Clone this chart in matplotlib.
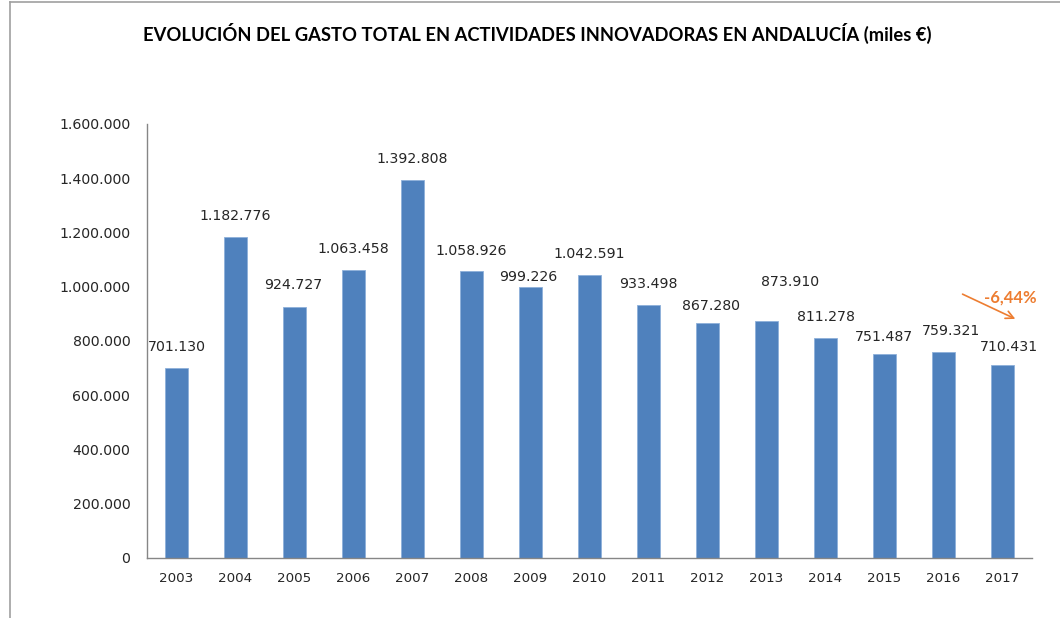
import matplotlib.pyplot as plt
from matplotlib.lines import Line2D
from matplotlib.ticker import FuncFormatter

# data
years = ["2003", "2004", "2005", "2006", "2007", "2008", "2009", "2010",
         "2011", "2012", "2013", "2014", "2015", "2016", "2017"]
gasto = [701130, 1182776, 924727, 1063458, 1392808, 1058926, 999226, 1042591,
         933498, 867280, 873910, 811278, 751487, 759321, 710431]
variacion = "-6,44%"

# label offsets (pixels) relative to bar top, as placed in the original
label_offsets = [(0, 21), (0, 21), (-1, 22), (0, 21), (0, 21), (0, 20), (-2, 10),
                 (0, 21), (0, 21), (3, 17), (24, 39), (0, 21), (-1, 17), (7, 21), (6, 18)]

plt.rcParams["font.family"] = ["DejaVu Sans"]
TITLE_FONT = ["Lato", "DejaVu Sans"]

BAR = "#4F81BD"
ORANGE = "#ED7D31"
TXT = "#262626"


def miles(v, pos=None):
    return f"{int(round(v)):,}".replace(",", ".")


fig = plt.figure(figsize=(10.6, 6.18), dpi=100)
ax = fig.add_axes([0.1387, 0.0971, 0.8349, 0.7023])

x = list(range(len(years)))
ax.bar(x, gasto, width=0.39, color=BAR, edgecolor="#8EB0DA", linewidth=0.6)

for xi, v, (dx, dy) in zip(x, gasto, label_offsets):
    ax.annotate(miles(v), (xi, v), xytext=(dx, dy), textcoords="offset pixels",
                ha="center", va="center", fontsize=10.2, color=TXT)

ax.set_xlim(-0.5, len(years) - 0.5)
ax.set_ylim(0, 1600000)
ax.set_yticks(range(0, 1600001, 200000))
ax.yaxis.set_major_formatter(FuncFormatter(miles))
ax.set_xticks(x)
ax.set_xticklabels(years)
ax.tick_params(axis="both", length=0, labelcolor=TXT)
ax.tick_params(axis="y", pad=12, labelsize=10.2)
ax.tick_params(axis="x", pad=10, labelsize=9.7)

for side in ["top", "right"]:
    ax.spines[side].set_visible(False)
for side in ["left", "bottom"]:
    ax.spines[side].set_color("#868686")
    ax.spines[side].set_linewidth(1.0)

# trend arrow for last year
ax.annotate("", xy=(14.26, 877000), xytext=(13.28, 977000),
            arrowprops=dict(arrowstyle="->", color=ORANGE, lw=1.2,
                            mutation_scale=14), annotation_clip=False)
ax.text(14.13, 962000, variacion, color=ORANGE, fontsize=12, family=TITLE_FONT,
        fontweight="bold", ha="center", va="center", clip_on=False)

fig.text(0.507, 1 - 33 / 618,
         "EVOLUCIÓN DEL GASTO TOTAL EN ACTIVIDADES INNOVADORAS EN ANDALUCÍA (miles €)",
         ha="center", va="center", fontsize=13.25, fontweight="bold",
         family=TITLE_FONT, color="#000000")

# outer frame (only top and left edges visible)
fig.add_artist(Line2D([10 / 1060, 1], [1 - 2 / 618, 1 - 2 / 618],
                      transform=fig.transFigure, color="#A0A0A0", lw=1.2))
fig.add_artist(Line2D([10 / 1060, 10 / 1060], [0, 1 - 2 / 618],
                      transform=fig.transFigure, color="#A0A0A0", lw=1.2))

fig.savefig("out.png", dpi=100)
